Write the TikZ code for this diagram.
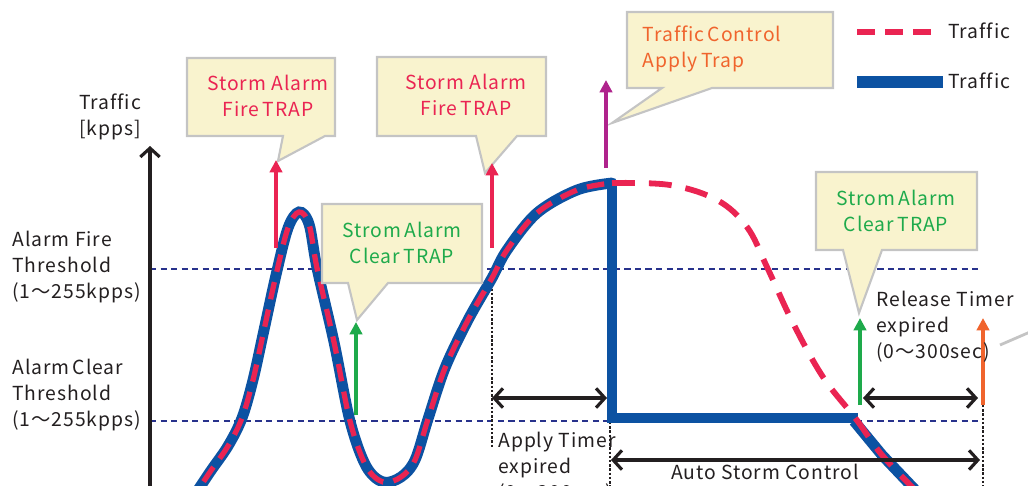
\documentclass[tikz,border=0pt]{standalone}
\usepackage{fontspec}
\setmainfont{Noto Sans CJK JP}[LetterSpace=5,Ligatures=NoCommon]
\usetikzlibrary{arrows.meta}
\definecolor{stormred}{RGB}{234,36,82}
\definecolor{trafficblue}{RGB}{12,82,162}
\definecolor{thresholdnavy}{RGB}{40,50,140}
\definecolor{cleargreen}{RGB}{30,170,75}
\definecolor{applyorange}{RGB}{240,100,45}
\definecolor{applypurple}{RGB}{175,35,140}
\definecolor{balloonfill}{RGB}{249,243,206}
\definecolor{balloongray}{RGB}{196,196,196}
\definecolor{inkblack}{RGB}{35,31,32}
\tikzset{
  threshold/.style={draw=thresholdnavy,line width=1.3pt,dash pattern=on 3.5pt off 2.5pt},
  trafficline/.style={draw=trafficblue,line width=6.2pt},
  stormline/.style={draw=stormred,line width=3pt,dash pattern=on 10pt off 6pt},
  trap/.style={draw=#1,line width=1.8pt,-{Triangle[length=7pt,width=7pt]}},
  span/.style={draw=inkblack,line width=1.8pt,{Straight Barb[length=5pt,width=11pt]}-{Straight Barb[length=5pt,width=11pt]}},
  timerline/.style={draw=inkblack,line width=1.4pt,densely dotted},
  balloon/.style={fill=balloonfill,draw=balloongray,line width=1.2pt,line join=miter},
}
\newcommand{\tgap}{\kern1.8pt\relax}
% x1,y1,x2,y2,tail left,tail right,tip
\newcommand{\drawballoon}[7]{
  \path[balloon] (#1,#2) -- (#3,#2) -- (#3,#4) -- (#6,#4) -- #7 -- (#5,#4) -- (#1,#4) -- cycle;
}
\newcommand{\risepath}{plot[smooth,tension=0.55] coordinates {(188,505) (210,472) (228,446) (242,418) (253,380) (264,330) (276,275) (288,228) (299,212) (309,224) (317,268) (334,342) (350,421) (366,466) (383,482) (401,477) (415,460) (428,419) (445,368) (468,320) (492,278) (507,250) (537,213) (577,190) (612,183)}}

\begin{document}
\begin{tikzpicture}[x=0.02cm,y=-0.02cm,every node/.style={font=\fontsize{11}{14.7}\selectfont,text=inkblack,inner sep=0pt}]
  \clip (0,0) rectangle (1028,485);

  % thresholds
  \coordinate (F0) at (150,269);
  \coordinate (F1) at (978,269);
  \coordinate (C0) at (150,421);
  \coordinate (C1) at (978,421);
  \draw[threshold] (F0) -- (F1);
  \draw[threshold] (C0) -- (C1);

  % axis
  \coordinate (axisbottom) at (150,490);
  \coordinate (axistop) at (150,146);
  \draw[draw=inkblack,line width=1.8pt,-{Straight Barb[length=5pt,width=11pt]}] (axisbottom) -- (axistop);
  \node[align=center] (axislabel) at (110,117) {Traffic\\{[kpps]}};
  \node[anchor=west,align=left] (firelabel) at (12,267) {Alarm Fire\\Threshold\\(1～255kpps)};
  \node[anchor=west,align=left] (clearlabel) at (12,395) {Alarm\tgap Clear\\Threshold\\(1～255kpps)};

  % timer marks
  \draw[timerline] (492,276) -- (492,448);
  \draw[timerline] (610,422) -- (610,490);
  \draw[timerline] (983,405) -- (983,490);

  % traffic
  \draw[trafficline,line cap=round] \risepath;
  \draw[trafficline,line join=miter] (612,182) -- (612,418) -- (858,418);
  \draw[trafficline] (854,421) -- (882,455) -- (920,495);
  \draw[stormline] \risepath;
  \draw[stormline,line width=3.3pt,dash pattern=on 13pt off 8pt] plot[smooth,tension=0.6] coordinates {(612,183) (670,185) (717,200) (747,227) (767,267) (793,323) (823,377) (856,419) (882,455) (920,495)};

  % balloons
  \coordinate (tipA) at (278,161);
  \drawballoon{187}{58}{335}{136}{283}{325}{(tipA)}
  \node[text=stormred,align=center] (fireA) at (268,96) {Storm Alarm\\Fire\tgap TRAP};

  \coordinate (tipB) at (485,173);
  \drawballoon{377}{57}{546}{136}{476}{517}{(tipB)}
  \node[text=stormred,align=center] (fireB) at (466,95) {Storm Alarm\\Fire\tgap TRAP};

  \coordinate (tipC) at (612,123);
  \drawballoon{627}{12}{833}{88}{662}{712}{(tipC)}
  \node[text=applyorange,align=left] (apply) at (712,49) {Traffic\tgap Control\\Apply\tgap Trap};

  \coordinate (tipD) at (357,320);
  \drawballoon{322}{204}{482}{283}{348}{388}{(tipD)}
  \node[text=cleargreen,align=center] (clearA) at (402,243) {Strom\tgap Alarm\\Clear\tgap TRAP};

  \coordinate (tipE) at (859,313);
  \drawballoon{816}{172}{977}{250}{843}{882}{(tipE)}
  \node[text=cleargreen,align=center] (clearB) at (896,211) {Strom\tgap Alarm\\Clear\tgap TRAP};

  \draw[draw=balloongray,line width=1.6pt] (1000,345) -- (1030,332);

  % traps
  \coordinate (fireAbase) at (276,248);
  \coordinate (fireAtop) at (276,160);
  \draw[trap=stormred] (fireAbase) -- (fireAtop);
  \coordinate (fireBbase) at (492,248);
  \coordinate (fireBtop) at (492,163);
  \draw[trap=stormred] (fireBbase) -- (fireBtop);
  \coordinate (applybase) at (606,168);
  \coordinate (applytop) at (606,80);
  \draw[trap=applypurple] (applybase) -- (applytop);
  \coordinate (clearAbase) at (356,415);
  \coordinate (clearAtop) at (356,322);
  \draw[trap=cleargreen] (clearAbase) -- (clearAtop);
  \coordinate (clearBbase) at (860,405);
  \coordinate (clearBtop) at (860,318);
  \draw[trap=cleargreen] (clearBbase) -- (clearBtop);
  \coordinate (releasebase) at (983,405);
  \coordinate (releasetop) at (983,318);
  \draw[trap=applyorange] (releasebase) -- (releasetop);

  % timers
  \coordinate (applyL) at (492,398);
  \coordinate (applyR) at (607,398);
  \draw[span] (applyL) -- (applyR);
  \coordinate (relL) at (863,398);
  \coordinate (relR) at (978,398);
  \draw[span] (relL) -- (relR);
  \coordinate (autoL) at (611,460);
  \coordinate (autoR) at (980,460);
  \draw[span] (autoL) -- (autoR);
  \node[anchor=north west,align=left] (applytimer) at (498,432) {Apply Timer\\expired\\(0～300sec)};
  \node (auto) at (765,472) {Auto Storm Control};
  \node[anchor=north west,align=left] (releasetimer) at (876,291) {Release Timer\\expired\\(0～300sec)};

  % legend
  \coordinate (legA0) at (857,32);
  \coordinate (legA1) at (937,32);
  \draw[draw=stormred,line width=3.4pt,dash pattern=on 10pt off 6pt] (legA0) -- (legA1);
  \node[anchor=west] (legAtext) at (948,31) {Traffic};
  \coordinate (legB0) at (857,82);
  \coordinate (legB1) at (943,82);
  \draw[draw=trafficblue,line width=6.5pt] (legB0) -- (legB1);
  \node[anchor=west] (legBtext) at (948,81) {Traffic};
\end{tikzpicture}
\end{document}
